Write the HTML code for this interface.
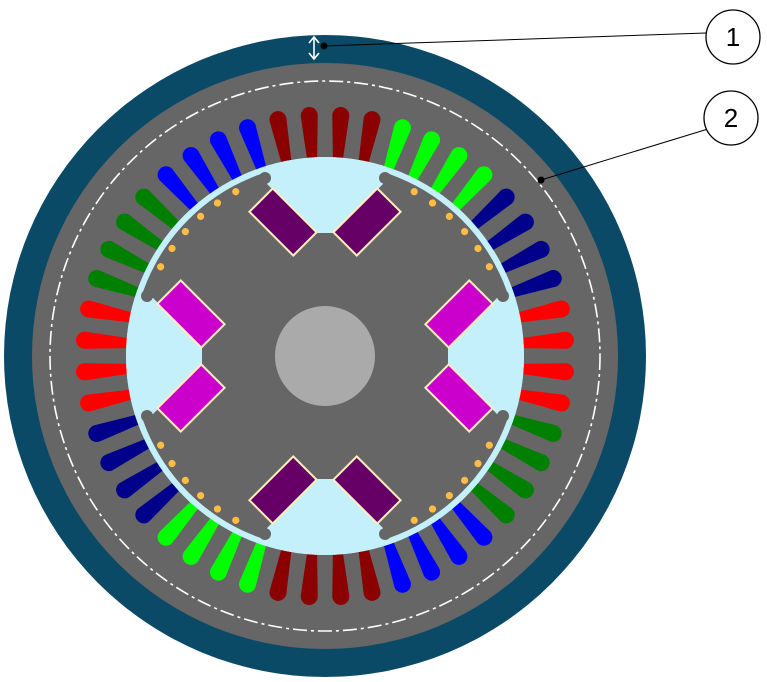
<!DOCTYPE html>
<html><head><meta charset="utf-8"><style>html,body{margin:0;padding:0;background:#fff}svg{display:block}</style></head>
<body>
<svg width="767" height="682" viewBox="0 0 767 682" xmlns="http://www.w3.org/2000/svg">
<defs>
<path id="s" d="M -5,-197 L -8.5,-241 A 8.5 8.5 0 0 1 8.5,-241 L 5,-197 Z"/>
<circle id="d" cx="0" cy="-187" r="3.6" fill="#ffbb44"/>
<polygon id="cut" points="-9,-123 9,-123 58,-172 75,-205 -75,-205 -58,-172" fill="#c4f0fc"/>
<clipPath id="bore"><circle cx="0" cy="0" r="199"/></clipPath>
<g id="mag">
<rect x="-31" y="-16.5" width="62" height="33" transform="translate(-42,-134) rotate(45)" stroke="#ffeebb" stroke-width="2"/>
<rect x="-31" y="-16.5" width="62" height="33" transform="translate(42,-134) rotate(-45)" stroke="#ffeebb" stroke-width="2"/>
</g>
</defs>
<circle cx="325" cy="356" r="321" fill="#0b4a66"/>
<circle cx="325" cy="356" r="293" fill="#666666"/>
<circle cx="325" cy="356" r="275" fill="none" stroke="#fff" stroke-width="1.6" stroke-dasharray="14 4 3 4"/>
<g transform="translate(325,356)">
<g fill="#8b0000"><use href="#s" transform="rotate(-11.25)"/><use href="#s" transform="rotate(-3.75)"/><use href="#s" transform="rotate(3.75)"/><use href="#s" transform="rotate(11.25)"/>
<use href="#s" transform="rotate(168.75)"/><use href="#s" transform="rotate(176.25)"/><use href="#s" transform="rotate(183.75)"/><use href="#s" transform="rotate(191.25)"/></g>
<g fill="#00ff00"><use href="#s" transform="rotate(18.75)"/><use href="#s" transform="rotate(26.25)"/><use href="#s" transform="rotate(33.75)"/><use href="#s" transform="rotate(41.25)"/>
<use href="#s" transform="rotate(198.75)"/><use href="#s" transform="rotate(206.25)"/><use href="#s" transform="rotate(213.75)"/><use href="#s" transform="rotate(221.25)"/></g>
<g fill="#00008b"><use href="#s" transform="rotate(48.75)"/><use href="#s" transform="rotate(56.25)"/><use href="#s" transform="rotate(63.75)"/><use href="#s" transform="rotate(71.25)"/>
<use href="#s" transform="rotate(228.75)"/><use href="#s" transform="rotate(236.25)"/><use href="#s" transform="rotate(243.75)"/><use href="#s" transform="rotate(251.25)"/></g>
<g fill="#ff0000"><use href="#s" transform="rotate(78.75)"/><use href="#s" transform="rotate(86.25)"/><use href="#s" transform="rotate(93.75)"/><use href="#s" transform="rotate(101.25)"/>
<use href="#s" transform="rotate(258.75)"/><use href="#s" transform="rotate(266.25)"/><use href="#s" transform="rotate(273.75)"/><use href="#s" transform="rotate(281.25)"/></g>
<g fill="#008000"><use href="#s" transform="rotate(108.75)"/><use href="#s" transform="rotate(116.25)"/><use href="#s" transform="rotate(123.75)"/><use href="#s" transform="rotate(131.25)"/>
<use href="#s" transform="rotate(288.75)"/><use href="#s" transform="rotate(296.25)"/><use href="#s" transform="rotate(303.75)"/><use href="#s" transform="rotate(311.25)"/></g>
<g fill="#0000ff"><use href="#s" transform="rotate(138.75)"/><use href="#s" transform="rotate(146.25)"/><use href="#s" transform="rotate(153.75)"/><use href="#s" transform="rotate(161.25)"/>
<use href="#s" transform="rotate(318.75)"/><use href="#s" transform="rotate(326.25)"/><use href="#s" transform="rotate(333.75)"/><use href="#s" transform="rotate(341.25)"/></g>
<circle cx="0" cy="0" r="199" fill="#c4f0fc"/>
<circle cx="0" cy="0" r="193" fill="#666666"/>
<g clip-path="url(#bore)">
<use href="#cut"/><use href="#cut" transform="rotate(90)"/><use href="#cut" transform="rotate(180)"/><use href="#cut" transform="rotate(270)"/>
</g>
<g fill="#666666">
<circle cx="-60" cy="-178" r="6"/><circle cx="60" cy="-178" r="6"/>
<circle cx="-60" cy="178" r="6"/><circle cx="60" cy="178" r="6"/>
<circle cx="-178" cy="-60" r="6"/><circle cx="-178" cy="60" r="6"/>
<circle cx="178" cy="-60" r="6"/><circle cx="178" cy="60" r="6"/>
</g>
<g>
<use href="#d" transform="rotate(28.5)"/><use href="#d" transform="rotate(35.1)"/><use href="#d" transform="rotate(41.7)"/><use href="#d" transform="rotate(48.3)"/><use href="#d" transform="rotate(54.9)"/><use href="#d" transform="rotate(61.5)"/>
<use href="#d" transform="rotate(118.5)"/><use href="#d" transform="rotate(125.1)"/><use href="#d" transform="rotate(131.7)"/><use href="#d" transform="rotate(138.3)"/><use href="#d" transform="rotate(144.9)"/><use href="#d" transform="rotate(151.5)"/>
<use href="#d" transform="rotate(208.5)"/><use href="#d" transform="rotate(215.1)"/><use href="#d" transform="rotate(221.7)"/><use href="#d" transform="rotate(228.3)"/><use href="#d" transform="rotate(234.9)"/><use href="#d" transform="rotate(241.5)"/>
<use href="#d" transform="rotate(298.5)"/><use href="#d" transform="rotate(305.1)"/><use href="#d" transform="rotate(311.7)"/><use href="#d" transform="rotate(318.3)"/><use href="#d" transform="rotate(324.9)"/><use href="#d" transform="rotate(331.5)"/>
</g>
<use href="#mag" fill="#660066"/>
<use href="#mag" fill="#660066" transform="rotate(180)"/>
<use href="#mag" fill="#cc00cc" transform="rotate(90)"/>
<use href="#mag" fill="#cc00cc" transform="rotate(270)"/>
<circle cx="0" cy="0" r="50" fill="#aaaaaa"/>
</g>
<g stroke="#fff" stroke-width="1.6" fill="none">
<line x1="314" y1="37" x2="314" y2="59"/>
<polyline points="309,43 314,37 319,43"/>
<polyline points="309,53 314,59 319,53"/>
</g>
<line x1="324" y1="46" x2="706" y2="33" stroke="#000" stroke-width="1"/>
<circle cx="324" cy="46" r="3.5" fill="#000"/>
<line x1="541" y1="180" x2="708" y2="129" stroke="#000" stroke-width="1"/>
<circle cx="541" cy="180" r="3.5" fill="#000"/>
<circle cx="733" cy="37" r="27" fill="#fff" stroke="#000" stroke-width="1.3"/>
<text x="733" y="46" font-family="Liberation Sans, sans-serif" font-size="26" text-anchor="middle">1</text>
<circle cx="731" cy="118" r="27" fill="#fff" stroke="#000" stroke-width="1.3"/>
<text x="731" y="127" font-family="Liberation Sans, sans-serif" font-size="26" text-anchor="middle">2</text>
</svg>
</body></html>
